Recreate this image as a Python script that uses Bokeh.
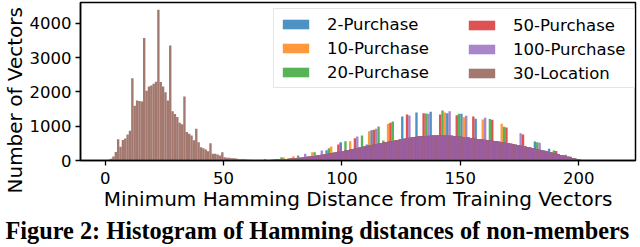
from bokeh.plotting import figure
from bokeh.models import Range1d, FixedTicker, Legend, LegendItem, Title, ColumnDataSource
from bokeh.embed import file_html
from bokeh.resources import INLINE

# ---------------- data ----------------
x_ticks = [0, 50, 100, 150, 200]
y_ticks = [0, 1000, 2000, 3000, 4000]

series_names = ["2-Purchase", "10-Purchase", "20-Purchase", "50-Purchase", "100-Purchase", "30-Location"]
series_colors = ["#1f77b4", "#ff7f0e", "#2ca02c", "#d62728", "#9467bd", "#8c564b"]

caption = "Figure 2: Histogram of Hamming distances of non-members"
x_label = "Minimum Hamming Distance from Training Vectors"
y_label = "Number of Vectors"

# 30-Location: count per distance, starting at distance 0
location_start = 0
location_counts = [
    0, 20, 50, 120, 250, 620, 400, 600, 640, 760,
    870, 2400, 1600, 1750, 1740, 1720, 3580, 2040, 2160, 2190,
    2240, 2300, 4400, 2290, 2160, 1995, 1750, 3360, 1440, 1360,
    1270, 1100, 1060, 1870, 830, 780, 730, 590, 925, 535,
    390, 360, 320, 270, 506, 195, 195, 175, 146, 243,
    97, 78, 78, 68, 68, 60, 39, 39, 35, 30,
    25, 20, 15,
]

# Purchase data sets: common body of the distribution (distance 66..201)
purchase_start = 66
purchase_base = [
    5, 8, 10, 15, 18, 22, 26, 30, 35, 40,
    45, 50, 56, 62, 68, 75, 82, 90, 98, 106,
    115, 125, 135, 145, 155, 165, 178, 190, 202, 215,
    228, 240, 252, 265, 278, 292, 306, 320, 335, 350,
    365, 380, 395, 410, 425, 440, 455, 470, 485, 498,
    510, 522, 535, 548, 560, 572, 585, 598, 612, 625,
    638, 650, 662, 672, 682, 690, 698, 705, 710, 715,
    720, 724, 728, 730, 732, 733, 733, 732, 730, 727,
    722, 715, 708, 700, 692, 684, 676, 668, 660, 650,
    640, 628, 620, 612, 604, 596, 588, 580, 570, 560,
    549, 538, 526, 514, 502, 489, 476, 463, 449, 435,
    421, 407, 392, 377, 362, 347, 331, 315, 299, 283,
    266, 249, 232, 215, 198, 181, 164, 146, 128, 110,
    92, 74, 56, 40, 25, 12,
]

# bins where each purchase series is taller (distance: count)
spikes_2 = {67: 40, 93: 300, 99: 530, 110: 467, 112: 880, 125: 1285, 131: 1401, 137: 1421,
            144: 1382, 150: 1362, 156: 1216, 181: 555, 187: 340, 194: 165}
spikes_10 = {70: 45, 75: 90, 79: 126, 87: 243, 95: 409, 103: 565, 111: 856, 119: 1070,
             143: 1401, 151: 1265, 159: 1197, 167: 1070}
spikes_20 = {74: 97, 81: 146, 88: 243, 94: 360, 101: 565, 108: 730, 115: 993, 117: 584,
             121: 1140, 135: 1370, 142: 1460, 149: 1362, 162: 1210, 168: 983, 182: 530,
             189: 292, 196: 117}
spikes_50 = {71: 30, 98: 467, 105: 652, 113: 895, 120: 1100, 127: 1343, 134: 1382, 141: 1343,
             148: 1324, 155: 1285, 163: 1190, 169: 960, 176: 759, 190: 280}
spikes_100 = {84: 195, 91: 292, 99: 500, 106: 700, 114: 925, 128: 1314, 136: 1362, 145: 1440,
              152: 1304, 160: 1246, 175: 798, 183: 520}


def purchase_counts(spikes):
    counts = list(purchase_base)
    for d, c in spikes.items():
        counts[d - purchase_start] = c
    return counts


def hist_source(start, counts):
    left = [start + i for i in range(len(counts))]
    right = [v + 1 for v in left]
    return ColumnDataSource(dict(left=left, right=right, top=counts))


sources = [
    hist_source(purchase_start, purchase_counts(spikes_2)),
    hist_source(purchase_start, purchase_counts(spikes_10)),
    hist_source(purchase_start, purchase_counts(spikes_20)),
    hist_source(purchase_start, purchase_counts(spikes_50)),
    hist_source(purchase_start, purchase_counts(spikes_100)),
    hist_source(location_start, location_counts),
]

# ---------------- figure ----------------
W, H = 640, 247
B_LEFT, B_RIGHT, B_TOP, B_BOTTOM = 77, 5, 2, 87
FRAME_W = W - B_LEFT - B_RIGHT
FRAME_H = H - B_TOP - B_BOTTOM

p = figure(width=W, height=H, output_backend="svg", toolbar_location=None,
           x_range=Range1d(-10.4, 224.0), y_range=Range1d(0, 4613),
           min_border_left=B_LEFT, min_border_right=B_RIGHT,
           min_border_top=B_TOP, min_border_bottom=B_BOTTOM)
p.background_fill_color = "white"
p.border_fill_color = "white"
p.outline_line_color = "black"
p.outline_line_width = 1.5
p.xgrid.visible = False
p.ygrid.visible = False

renderers = []
for src, col in zip(sources, series_colors):
    r = p.quad(left="left", right="right", bottom=0, top="top", source=src,
               fill_color=col, fill_alpha=0.8, line_color=None)
    renderers.append(r)

for ax in (p.xaxis[0], p.yaxis[0]):
    ax.axis_line_color = "black"
    ax.axis_line_width = 1.5
    ax.major_tick_line_color = "black"
    ax.major_tick_line_width = 1.3
    ax.major_tick_in = 0
    ax.major_tick_out = 5
    ax.minor_tick_line_color = None
    ax.major_label_text_font = "DejaVu Sans"
    ax.major_label_text_font_size = "16.5px"
    ax.major_label_text_color = "black"
    ax.axis_label_text_font = "DejaVu Sans"
    ax.axis_label_text_font_size = "20px"
    ax.axis_label_text_font_style = "normal"
    ax.axis_label_text_color = "black"

p.xaxis[0].ticker = FixedTicker(ticks=x_ticks)
p.yaxis[0].ticker = FixedTicker(ticks=y_ticks)
p.xaxis[0].axis_label = x_label
p.xaxis[0].major_label_standoff = 6
p.xaxis[0].axis_label_standoff = 0
p.yaxis[0].major_label_standoff = 4

# y-axis title (extends a little below the frame, as in the reference)
p.add_layout(Title(text=y_label, align="left", offset=-33, standoff=0,
                   text_font="DejaVu Sans", text_font_size="20px",
                   text_font_style="normal", text_color="black"), "left")

# legend: a framed box with the left column, and the right column on top of it
PAD, SP, ROW = 5, 4, 20
legend_common = dict(padding=PAD, spacing=SP, glyph_width=33, glyph_height=12,
                     label_standoff=15, label_height=ROW,
                     label_text_font="DejaVu Sans", label_text_font_size="16.5px",
                     label_text_color="black")
LEG_W = 360
LEG_H = 2 * PAD + 3 * ROW + 2 * SP
leg_y = FRAME_H - 8 - LEG_H
leg_a = Legend(items=[LegendItem(label=series_names[i], renderers=[renderers[i]]) for i in range(3)],
               location=(FRAME_W - 5 - LEG_W, leg_y),
               label_width=LEG_W - 2 * PAD - 33 - 15,
               border_line_color="#cccccc", border_line_width=1,
               background_fill_color="white", background_fill_alpha=0.8, **legend_common)
leg_b = Legend(items=[LegendItem(label=series_names[i], renderers=[renderers[i]]) for i in range(3, 6)],
               location=(FRAME_W - 5 - LEG_W + 187, leg_y),
               border_line_alpha=0, background_fill_alpha=0, **legend_common)
p.add_layout(leg_a)
p.add_layout(leg_b)

# caption under the chart
p.add_layout(Title(text=caption, align="left", offset=-75, standoff=3,
                   text_font="Liberation Serif", text_font_size="24.3px",
                   text_font_style="bold", text_color="black"), "below")

open("out.html", "w").write(file_html(p, INLINE))
